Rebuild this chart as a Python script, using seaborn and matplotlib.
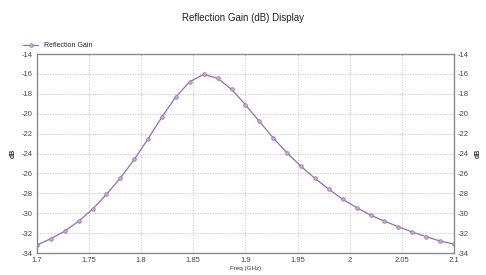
import numpy as np
import pandas as pd
import matplotlib
matplotlib.use("Agg")
import matplotlib.pyplot as plt
import seaborn as sns

# frequency points (GHz), 31 samples across the sweep
freq = [1.7 + k * 0.4 / 30 for k in range(31)]
gain_db = [-33.2, -32.56, -31.8, -30.8, -29.6, -28.1, -26.46, -24.6, -22.5, -20.3,
           -18.29, -16.78, -16.04, -16.44, -17.55, -19.1, -20.77, -22.44, -23.95, -25.3,
           -26.5, -27.6, -28.6, -29.44, -30.2, -30.8, -31.36, -31.9, -32.36, -32.8, -33.1]
xticks = [1.7, 1.75, 1.8, 1.85, 1.9, 1.95, 2.0, 2.05, 2.1]
xticklabels = ["1.7", "1.75", "1.8", "1.85", "1.9", "1.95", "2", "2.05", "2.1"]
yticks = [-14, -16, -18, -20, -22, -24, -26, -28, -30, -32, -34]

df = pd.DataFrame({"Freq (GHz)": freq, "dB": gain_db})

sns.set_style("white")
plt.rcParams["font.family"] = ["Liberation Sans Narrow", "Liberation Sans", "DejaVu Sans"]
plt.rcParams["axes.unicode_minus"] = False

fig = plt.figure(figsize=(4.86, 2.75), dpi=100)
ax = fig.add_axes([0.0761, 0.08, 0.858, 0.7236])

col = "#9a6aae"
sns.lineplot(data=df, x="Freq (GHz)", y="dB", ax=ax, color=col, lw=0.9,
             marker="o", markersize=2.6, markerfacecolor="#c4aed0",
             markeredgecolor=col, markeredgewidth=0.5, label="Reflection Gain")

ax.set_xlim(1.7, 2.1)
ax.set_ylim(-34, -14)
ax.set_xticks(xticks)
ax.set_xticklabels(xticklabels)
ax.set_yticks(yticks)
ax.grid(True, color="#c4c4c4", ls=(0, (1.5, 1.5)), lw=0.6)
for s in ax.spines.values():
    s.set_color("#8a8a8a")
    s.set_linewidth(1.0)
ax.tick_params(axis="both", labelsize=5.5, colors="#444444", length=0, pad=3)

ax.set_xlabel("Freq (GHz)", fontsize=4.5, labelpad=1, color="#333333")
ax.set_ylabel("dB", fontsize=5, labelpad=4, color="#333333", fontweight="bold")

ax2 = ax.twinx()
ax2.set_ylim(-34, -14)
ax2.set_yticks(yticks)
ax2.tick_params(axis="y", labelsize=5.5, colors="#444444", length=0, pad=3)
ax2.set_ylabel("dB", fontsize=5, labelpad=4, color="#333333", fontweight="bold")
for s in ax2.spines.values():
    s.set_visible(False)

leg = ax.legend(loc="lower left", bbox_to_anchor=(-0.04, 1.01), frameon=False,
                fontsize=5, handlelength=2.2, borderaxespad=0)

fig.text(0.5, 0.935, "Reflection Gain (dB) Display", ha="center", va="center",
         fontsize=7, color="#222222")

fig.savefig("out.png", dpi=100)
